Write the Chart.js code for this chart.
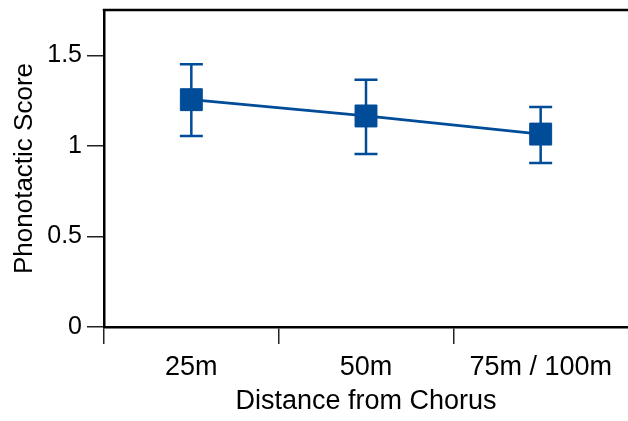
<!DOCTYPE html>
<html>
<head>
<meta charset="utf-8">
<script src="https://cdn.jsdelivr.net/npm/chart.js@4/dist/chart.umd.min.js"></script>
<style>
  html, body { margin: 0; padding: 0; background: #fff; }
  #wrap { width: 628px; height: 421px; }
</style>
</head>
<body>
<div id="wrap"><canvas id="c" width="628" height="421"></canvas></div>
<script>
const categories = ['25m', '50m', '75m / 100m'];
const meanScore = [1.255, 1.165, 1.065];
const upperErr = [1.45, 1.365, 1.215];
const lowerErr = [1.055, 0.955, 0.905];
const yTicks = [0, 0.5, 1, 1.5];

const BLUE = '#004c99';
const FONT = "'Liberation Sans', Arial, sans-serif";

const errorBarPlugin = {
  id: 'errorBars',
  beforeDatasetsDraw(chart) {
    const ctx = chart.ctx;
    const x = chart.scales.x, y = chart.scales.y;
    ctx.save();
    ctx.strokeStyle = BLUE;
    ctx.lineWidth = 2.5;
    const cap = 11.5;
    categories.forEach((c, i) => {
      const px = x.getPixelForValue(i);
      const pt = y.getPixelForValue(upperErr[i]);
      const pb = y.getPixelForValue(lowerErr[i]);
      ctx.beginPath();
      ctx.moveTo(px, pt); ctx.lineTo(px, pb);
      ctx.moveTo(px - cap, pt); ctx.lineTo(px + cap, pt);
      ctx.moveTo(px - cap, pb); ctx.lineTo(px + cap, pb);
      ctx.stroke();
    });
    ctx.restore();
  },
  afterDraw(chart) {
    const ctx = chart.ctx;
    const a = chart.chartArea;
    ctx.save();
    ctx.strokeStyle = '#000';
    ctx.lineWidth = 2.5;
    ctx.beginPath();
    ctx.moveTo(a.left - 1.25, a.top);
    ctx.lineTo(chart.width, a.top);
    ctx.stroke();
    ctx.restore();
  }
};

new Chart(document.getElementById('c'), {
  type: 'line',
  data: {
    labels: categories,
    datasets: [{
      data: meanScore,
      borderColor: BLUE,
      backgroundColor: BLUE,
      borderWidth: 2.7,
      pointStyle: 'rect',
      pointRadius: 15.5,
      pointHoverRadius: 15.5,
      pointBorderWidth: 1,
      pointBorderColor: BLUE,
      pointBackgroundColor: BLUE,
      tension: 0
    }]
  },
  options: {
    responsive: false,
    animation: false,
    events: [],
    layout: { autoPadding: false, padding: { top: 10, right: 0, bottom: 0, left: 0 } },
    plugins: { legend: { display: false }, tooltip: { enabled: false } },
    scales: {
      x: {
        type: 'category',
        offset: true,
        grid: {
          offset: true, drawOnChartArea: false, tickLength: 17, lineWidth: 1.5,
          color: c => (c.tick ? '#222' : 'rgba(0,0,0,0)')
        },
        border: { display: true, color: '#000', width: 2.5 },
        ticks: { color: '#000', font: { family: FONT, size: 27 }, padding: 7, maxRotation: 0, autoSkip: false },
        title: { display: true, text: 'Distance from Chorus', color: '#000', font: { family: FONT, size: 27 }, padding: { top: 0, bottom: 3 } },
        afterFit(s) { s.height = 94; s.paddingLeft = 0; s.paddingRight = 0; }
      },
      y: {
        min: 0,
        max: 1.75,
        afterBuildTicks(s) { s.ticks = yTicks.map(v => ({ value: v })); },
        grid: { drawOnChartArea: false, tickLength: 17, color: '#222', lineWidth: 1.5 },
        border: { display: true, color: '#000', width: 2.5 },
        ticks: { color: '#000', font: { family: FONT, size: 25 }, padding: 5, callback: v => String(v) },
        title: { display: true, text: 'Phonotactic Score', color: '#000', font: { family: FONT, size: 26 }, padding: { top: 9, bottom: 0 } },
        afterFit(s) { s.width = 104; s.paddingTop = 0; s.paddingBottom = 0; }
      }
    }
  },
  plugins: [errorBarPlugin]
});
</script>
</body>
</html>
